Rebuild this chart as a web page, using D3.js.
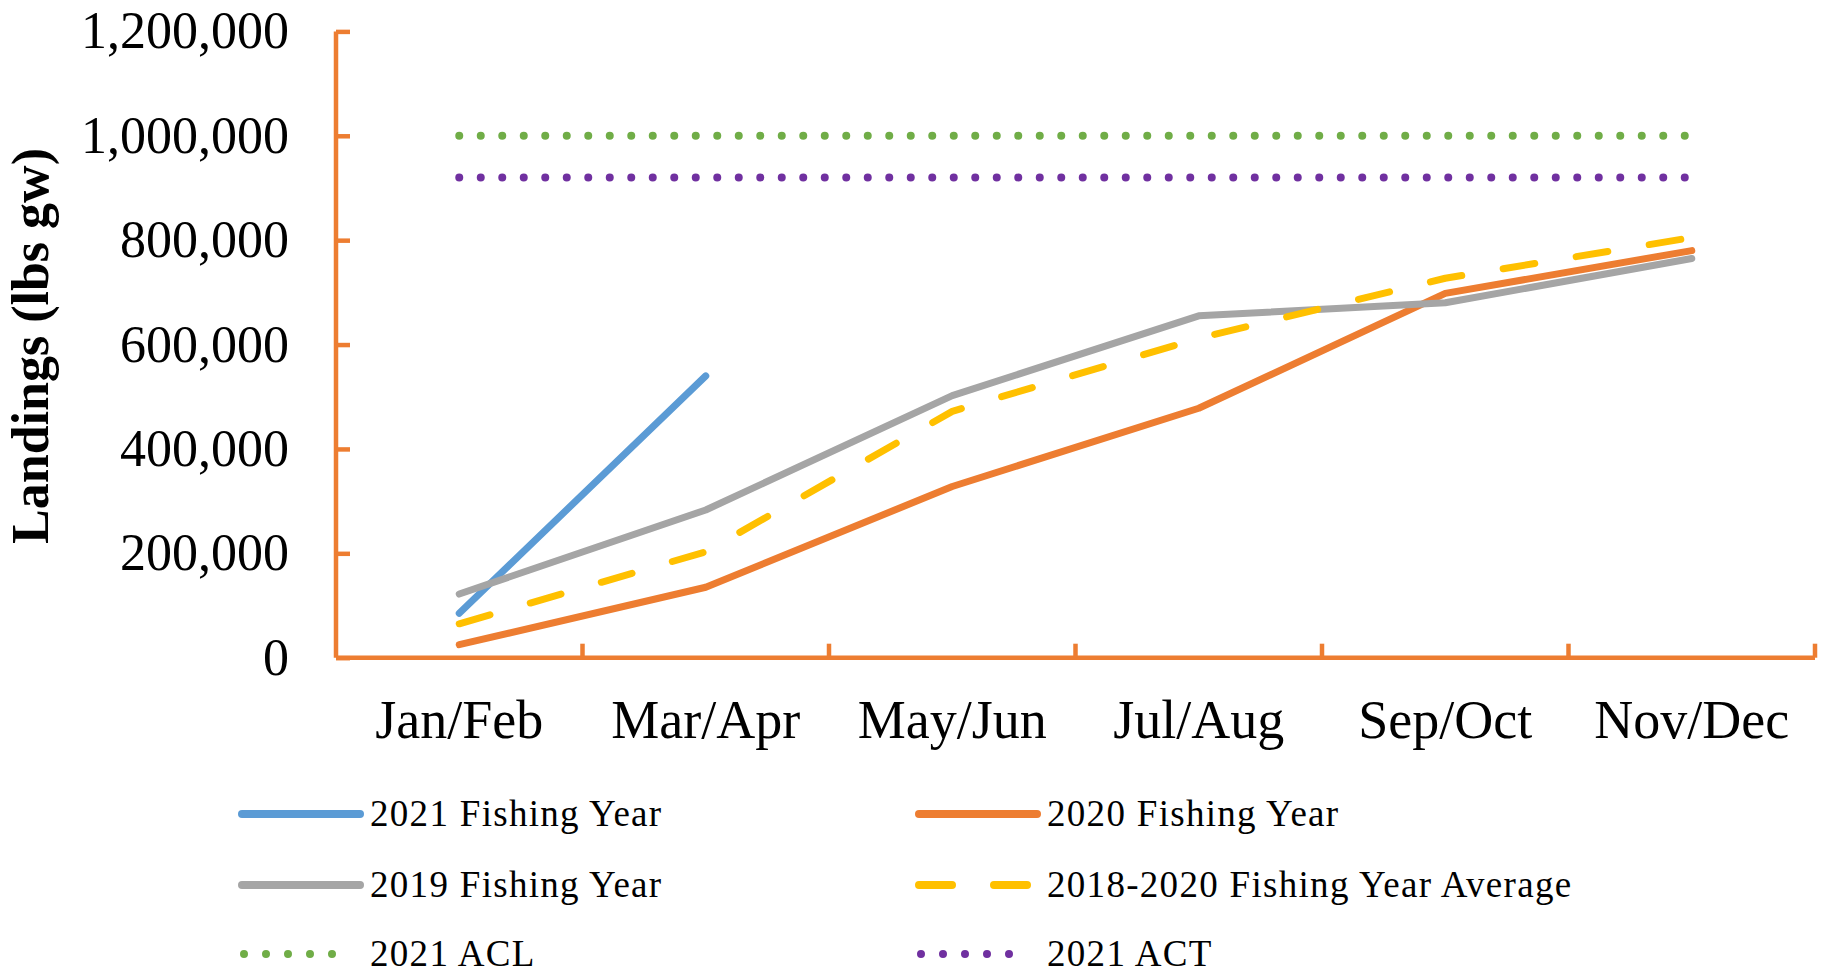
<!DOCTYPE html>
<html>
<head>
<meta charset="utf-8">
<script src="https://cdn.jsdelivr.net/npm/d3@7"></script>
<style>
  body { margin: 0; background: #fff; }
  svg { display: block; }
  text { font-family: "Liberation Serif", "Times New Roman", serif; fill: #000; }
</style>
</head>
<body>
<svg class="mainsvg" width="1822" height="973"></svg>
<script>
var categories = ["Jan/Feb", "Mar/Apr", "May/Jun", "Jul/Aug", "Sep/Oct", "Nov/Dec"];
var fy2021 = [85000, 540000];
var fy2020 = [25000, 135000, 328000, 478000, 698000, 780000];
var fy2019 = [122000, 283000, 502000, 655000, 680000, 765000];
var avg1820 = [65000, 203000, 472000, 612000, 727000, 805000];
var acl2021 = [1000000, 1000000, 1000000, 1000000, 1000000, 1000000];
var act2021 = [920000, 920000, 920000, 920000, 920000, 920000];
var yTicks = [0, 200000, 400000, 600000, 800000, 1000000, 1200000];

var series = [
  { name: "2021 Fishing Year", values: fy2021, color: "#5B9BD5", dash: null },
  { name: "2020 Fishing Year", values: fy2020, color: "#ED7D31", dash: null },
  { name: "2019 Fishing Year", values: fy2019, color: "#A5A5A5", dash: null },
  { name: "2018-2020 Fishing Year Average", values: avg1820, color: "#FFC000", dash: "32 42" },
  { name: "2021 ACL", values: acl2021, color: "#70AD47", dash: "0 21.5" },
  { name: "2021 ACT", values: act2021, color: "#7030A0", dash: "0 21.5" }
];

var axisColor = "#ED7D31";
var svg = d3.select(".mainsvg");

var x = d3.scaleBand().domain(categories).range([336, 1815]);
var y = d3.scaleLinear().domain([0, 1200000]).range([657.7, 31.4]);
var fmt = d3.format(",");

var isDot = function (s) { return s.dash && s.dash.indexOf("0 ") === 0; };

// y axis: ticks point inward
var yAxis = svg.append("g").attr("transform", "translate(336,0)")
    .call(d3.axisRight(y).tickValues(yTicks).tickSize(14).tickFormat(""));
yAxis.selectAll("line, path").attr("stroke", axisColor).attr("stroke-width", 4.5);
yAxis.select("path").attr("d", "M0," + y(1200000) + "V" + y(0));

// y tick labels
svg.append("g").selectAll("text")
    .data(yTicks)
    .enter().append("text")
    .attr("x", 289)
    .attr("y", function (d) { return y(d) + 17; })
    .attr("text-anchor", "end")
    .attr("font-size", 52)
    .text(function (d) { return fmt(d); });

// x axis: ticks at band edges pointing up
var edges = categories.map(function (c) { return x(c) + x.bandwidth(); });
var xAxis = svg.append("g").attr("transform", "translate(0," + y(0) + ")");
xAxis.append("path")
    .attr("d", "M336,0H1815")
    .attr("stroke", axisColor).attr("stroke-width", 4.5).attr("fill", "none");
xAxis.selectAll("line")
    .data(edges)
    .enter().append("line")
    .attr("x1", function (d) { return d; })
    .attr("x2", function (d) { return d; })
    .attr("y1", 0).attr("y2", -14)
    .attr("stroke", axisColor).attr("stroke-width", 4.5);

svg.append("g").selectAll("text")
    .data(categories)
    .enter().append("text")
    .attr("x", function (d) { return x(d) + x.bandwidth() / 2; })
    .attr("y", 738)
    .attr("text-anchor", "middle")
    .attr("font-size", 54)
    .text(function (d) { return d; });

// axis title
svg.append("text")
    .attr("transform", "translate(48,346) rotate(-90)")
    .attr("text-anchor", "middle")
    .attr("font-size", 52)
    .attr("font-weight", "bold")
    .text("Landings (lbs gw)");

// series lines
var line = d3.line()
    .x(function (d, i) { return x(categories[i]) + x.bandwidth() / 2; })
    .y(function (d) { return y(d); });

svg.append("g").selectAll("path")
    .data(series)
    .enter().append("path")
    .attr("d", function (s) { return line(s.values); })
    .attr("fill", "none")
    .attr("stroke", function (s) { return s.color; })
    .attr("stroke-width", function (s) { return isDot(s) ? 8 : 7; })
    .attr("stroke-dasharray", function (s) { return s.dash; })
    .attr("stroke-linecap", "round")
    .attr("stroke-linejoin", "round");

// legend, two columns
var legCols = [242, 919];
var legRows = [814, 885, 954];
var leg = svg.append("g").selectAll("g")
    .data(series)
    .enter().append("g")
    .attr("transform", function (s, i) {
      return "translate(" + legCols[i % 2] + "," + legRows[Math.floor(i / 2)] + ")";
    });

leg.append("path")
    .attr("d", function (s) { return isDot(s) ? "M2,0H112" : "M0,0H118"; })
    .attr("fill", "none")
    .attr("stroke", function (s) { return s.color; })
    .attr("stroke-width", 8)
    .attr("stroke-dasharray", function (s) { return s.dash ? (isDot(s) ? "0 22" : "33 42") : null; })
    .attr("stroke-linecap", "round");

leg.append("text")
    .attr("x", 128)
    .attr("y", 12)
    .attr("font-size", 37)
    .attr("letter-spacing", 1.3)
    .text(function (s) { return s.name; });
</script>
</body>
</html>
